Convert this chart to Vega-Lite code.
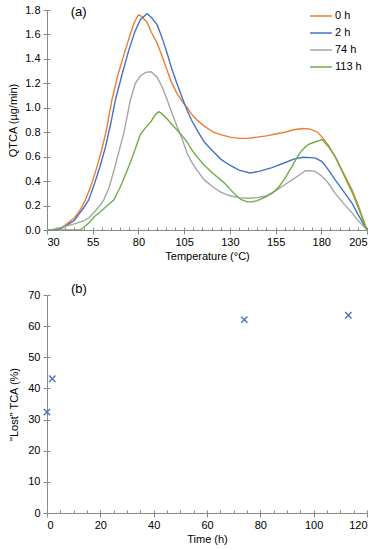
{
  "$schema": "https://vega.github.io/schema/vega-lite/v6.json",
  "padding": {"top": 4, "left": 7, "right": 5, "bottom": 5},
  "background": "white",
  "spacing": 22,
  "columns": 1,
  "align": "none",
  "config": {
    "font": "Liberation Sans",
    "view": {"stroke": null},
    "axis": {"grid": false, "domainColor": "#898989", "tickColor": "#898989", "labelColor": "#000", "titleColor": "#000", "labelFontSize": 11, "titleFontSize": 11, "titleFontWeight": "normal", "labelFont": "Liberation Sans", "titleFont": "Liberation Sans"}
  },
  "datasets": {
    "tga": [
      {"t": 30, "q": 0, "s": "0 h"}, {"t": 35, "q": 0.005, "s": "0 h"}, {"t": 38, "q": 0.02, "s": "0 h"}, {"t": 40, "q": 0.04, "s": "0 h"}, {"t": 45, "q": 0.1, "s": "0 h"}, {"t": 48, "q": 0.16, "s": "0 h"}, {"t": 51, "q": 0.245, "s": "0 h"}, {"t": 54, "q": 0.36, "s": "0 h"}, {"t": 57, "q": 0.5, "s": "0 h"}, {"t": 60, "q": 0.66, "s": "0 h"}, {"t": 62.5, "q": 0.82, "s": "0 h"}, {"t": 65.5, "q": 1.064, "s": "0 h"}, {"t": 69, "q": 1.28, "s": "0 h"}, {"t": 72.8, "q": 1.47, "s": "0 h"}, {"t": 75.5, "q": 1.6, "s": "0 h"}, {"t": 77.8, "q": 1.7, "s": "0 h"}, {"t": 80, "q": 1.76, "s": "0 h"}, {"t": 81.5, "q": 1.75, "s": "0 h"}, {"t": 84.7, "q": 1.7, "s": "0 h"}, {"t": 87, "q": 1.62, "s": "0 h"}, {"t": 90.2, "q": 1.53, "s": "0 h"}, {"t": 93, "q": 1.42, "s": "0 h"}, {"t": 95.6, "q": 1.31, "s": "0 h"}, {"t": 98, "q": 1.21, "s": "0 h"}, {"t": 101, "q": 1.12, "s": "0 h"}, {"t": 104, "q": 1.05, "s": "0 h"}, {"t": 106.6, "q": 1.0, "s": "0 h"}, {"t": 109, "q": 0.95, "s": "0 h"}, {"t": 112, "q": 0.9, "s": "0 h"}, {"t": 116, "q": 0.85, "s": "0 h"}, {"t": 121, "q": 0.8, "s": "0 h"}, {"t": 125, "q": 0.78, "s": "0 h"}, {"t": 130, "q": 0.76, "s": "0 h"}, {"t": 135, "q": 0.75, "s": "0 h"}, {"t": 140, "q": 0.75, "s": "0 h"}, {"t": 145, "q": 0.76, "s": "0 h"}, {"t": 150, "q": 0.77, "s": "0 h"}, {"t": 155, "q": 0.785, "s": "0 h"}, {"t": 160, "q": 0.8, "s": "0 h"}, {"t": 165, "q": 0.82, "s": "0 h"}, {"t": 170, "q": 0.83, "s": "0 h"}, {"t": 174, "q": 0.825, "s": "0 h"}, {"t": 178, "q": 0.8, "s": "0 h"}, {"t": 180.4, "q": 0.76, "s": "0 h"}, {"t": 184, "q": 0.69, "s": "0 h"}, {"t": 187.6, "q": 0.6, "s": "0 h"}, {"t": 192, "q": 0.47, "s": "0 h"}, {"t": 196.8, "q": 0.33, "s": "0 h"}, {"t": 200, "q": 0.21, "s": "0 h"}, {"t": 205, "q": 0, "s": "0 h"},

      {"t": 30, "q": 0, "s": "2 h"}, {"t": 35, "q": 0.005, "s": "2 h"}, {"t": 38, "q": 0.015, "s": "2 h"}, {"t": 40, "q": 0.03, "s": "2 h"}, {"t": 45, "q": 0.08, "s": "2 h"}, {"t": 48, "q": 0.14, "s": "2 h"}, {"t": 50, "q": 0.18, "s": "2 h"}, {"t": 52.8, "q": 0.245, "s": "2 h"}, {"t": 56, "q": 0.38, "s": "2 h"}, {"t": 59, "q": 0.52, "s": "2 h"}, {"t": 62, "q": 0.68, "s": "2 h"}, {"t": 65, "q": 0.88, "s": "2 h"}, {"t": 67.4, "q": 1.064, "s": "2 h"}, {"t": 71, "q": 1.27, "s": "2 h"}, {"t": 74.7, "q": 1.47, "s": "2 h"}, {"t": 78, "q": 1.62, "s": "2 h"}, {"t": 81, "q": 1.72, "s": "2 h"}, {"t": 84.7, "q": 1.77, "s": "2 h"}, {"t": 87, "q": 1.74, "s": "2 h"}, {"t": 90.2, "q": 1.68, "s": "2 h"}, {"t": 93, "q": 1.57, "s": "2 h"}, {"t": 95.6, "q": 1.45, "s": "2 h"}, {"t": 98, "q": 1.33, "s": "2 h"}, {"t": 101, "q": 1.2, "s": "2 h"}, {"t": 104, "q": 1.08, "s": "2 h"}, {"t": 106.6, "q": 0.98, "s": "2 h"}, {"t": 109, "q": 0.9, "s": "2 h"}, {"t": 112, "q": 0.82, "s": "2 h"}, {"t": 116, "q": 0.72, "s": "2 h"}, {"t": 121, "q": 0.64, "s": "2 h"}, {"t": 125, "q": 0.58, "s": "2 h"}, {"t": 130, "q": 0.53, "s": "2 h"}, {"t": 135, "q": 0.49, "s": "2 h"}, {"t": 141, "q": 0.466, "s": "2 h"}, {"t": 146, "q": 0.48, "s": "2 h"}, {"t": 153, "q": 0.51, "s": "2 h"}, {"t": 160, "q": 0.55, "s": "2 h"}, {"t": 165, "q": 0.58, "s": "2 h"}, {"t": 170, "q": 0.595, "s": "2 h"}, {"t": 176.6, "q": 0.59, "s": "2 h"}, {"t": 180.4, "q": 0.56, "s": "2 h"}, {"t": 184, "q": 0.49, "s": "2 h"}, {"t": 187.6, "q": 0.41, "s": "2 h"}, {"t": 192, "q": 0.32, "s": "2 h"}, {"t": 196.8, "q": 0.22, "s": "2 h"}, {"t": 200, "q": 0.13, "s": "2 h"}, {"t": 205, "q": 0, "s": "2 h"},

      {"t": 30, "q": 0, "s": "74 h"}, {"t": 33, "q": 0.005, "s": "74 h"}, {"t": 36, "q": 0.015, "s": "74 h"}, {"t": 40, "q": 0.03, "s": "74 h"}, {"t": 45, "q": 0.05, "s": "74 h"}, {"t": 50, "q": 0.075, "s": "74 h"}, {"t": 53, "q": 0.1, "s": "74 h"}, {"t": 56, "q": 0.15, "s": "74 h"}, {"t": 59, "q": 0.2, "s": "74 h"}, {"t": 61, "q": 0.245, "s": "74 h"}, {"t": 64, "q": 0.35, "s": "74 h"}, {"t": 67.2, "q": 0.52, "s": "74 h"}, {"t": 70, "q": 0.68, "s": "74 h"}, {"t": 72, "q": 0.79, "s": "74 h"}, {"t": 75.6, "q": 1.064, "s": "74 h"}, {"t": 78.3, "q": 1.2, "s": "74 h"}, {"t": 81, "q": 1.26, "s": "74 h"}, {"t": 84, "q": 1.29, "s": "74 h"}, {"t": 86.9, "q": 1.295, "s": "74 h"}, {"t": 88, "q": 1.28, "s": "74 h"}, {"t": 90.2, "q": 1.25, "s": "74 h"}, {"t": 93, "q": 1.17, "s": "74 h"}, {"t": 95.6, "q": 1.07, "s": "74 h"}, {"t": 98, "q": 0.97, "s": "74 h"}, {"t": 101, "q": 0.85, "s": "74 h"}, {"t": 104, "q": 0.74, "s": "74 h"}, {"t": 106.6, "q": 0.63, "s": "74 h"}, {"t": 109, "q": 0.56, "s": "74 h"}, {"t": 112, "q": 0.49, "s": "74 h"}, {"t": 116, "q": 0.41, "s": "74 h"}, {"t": 121, "q": 0.35, "s": "74 h"}, {"t": 125, "q": 0.31, "s": "74 h"}, {"t": 130, "q": 0.28, "s": "74 h"}, {"t": 135, "q": 0.265, "s": "74 h"}, {"t": 140, "q": 0.26, "s": "74 h"}, {"t": 145, "q": 0.265, "s": "74 h"}, {"t": 150, "q": 0.28, "s": "74 h"}, {"t": 155, "q": 0.32, "s": "74 h"}, {"t": 160, "q": 0.37, "s": "74 h"}, {"t": 165, "q": 0.42, "s": "74 h"}, {"t": 168, "q": 0.45, "s": "74 h"}, {"t": 171.3, "q": 0.486, "s": "74 h"}, {"t": 174, "q": 0.485, "s": "74 h"}, {"t": 176.6, "q": 0.48, "s": "74 h"}, {"t": 180.4, "q": 0.44, "s": "74 h"}, {"t": 184, "q": 0.38, "s": "74 h"}, {"t": 187.6, "q": 0.3, "s": "74 h"}, {"t": 192, "q": 0.22, "s": "74 h"}, {"t": 196.8, "q": 0.14, "s": "74 h"}, {"t": 200, "q": 0.08, "s": "74 h"}, {"t": 205, "q": 0, "s": "74 h"},

      {"t": 30, "q": 0, "s": "113 h"}, {"t": 48, "q": 0, "s": "113 h"}, {"t": 50, "q": 0.02, "s": "113 h"}, {"t": 53, "q": 0.06, "s": "113 h"}, {"t": 56, "q": 0.11, "s": "113 h"}, {"t": 60, "q": 0.16, "s": "113 h"}, {"t": 63, "q": 0.2, "s": "113 h"}, {"t": 66.5, "q": 0.245, "s": "113 h"}, {"t": 70, "q": 0.35, "s": "113 h"}, {"t": 72, "q": 0.42, "s": "113 h"}, {"t": 74.7, "q": 0.52, "s": "113 h"}, {"t": 78, "q": 0.65, "s": "113 h"}, {"t": 81, "q": 0.78, "s": "113 h"}, {"t": 84, "q": 0.84, "s": "113 h"}, {"t": 87, "q": 0.89, "s": "113 h"}, {"t": 89, "q": 0.94, "s": "113 h"}, {"t": 91.1, "q": 0.968, "s": "113 h"}, {"t": 93, "q": 0.95, "s": "113 h"}, {"t": 95.6, "q": 0.91, "s": "113 h"}, {"t": 98, "q": 0.87, "s": "113 h"}, {"t": 101, "q": 0.82, "s": "113 h"}, {"t": 104, "q": 0.77, "s": "113 h"}, {"t": 106.6, "q": 0.72, "s": "113 h"}, {"t": 109, "q": 0.66, "s": "113 h"}, {"t": 112, "q": 0.6, "s": "113 h"}, {"t": 116, "q": 0.53, "s": "113 h"}, {"t": 121, "q": 0.46, "s": "113 h"}, {"t": 125, "q": 0.41, "s": "113 h"}, {"t": 128, "q": 0.37, "s": "113 h"}, {"t": 131, "q": 0.32, "s": "113 h"}, {"t": 133.6, "q": 0.28, "s": "113 h"}, {"t": 136, "q": 0.25, "s": "113 h"}, {"t": 139.4, "q": 0.23, "s": "113 h"}, {"t": 142, "q": 0.23, "s": "113 h"}, {"t": 145, "q": 0.24, "s": "113 h"}, {"t": 149.4, "q": 0.27, "s": "113 h"}, {"t": 153, "q": 0.3, "s": "113 h"}, {"t": 156.7, "q": 0.35, "s": "113 h"}, {"t": 160, "q": 0.42, "s": "113 h"}, {"t": 164, "q": 0.52, "s": "113 h"}, {"t": 167, "q": 0.6, "s": "113 h"}, {"t": 169.5, "q": 0.655, "s": "113 h"}, {"t": 173, "q": 0.7, "s": "113 h"}, {"t": 176.6, "q": 0.72, "s": "113 h"}, {"t": 180.4, "q": 0.74, "s": "113 h"}, {"t": 184, "q": 0.68, "s": "113 h"}, {"t": 187.6, "q": 0.6, "s": "113 h"}, {"t": 192, "q": 0.46, "s": "113 h"}, {"t": 196.8, "q": 0.31, "s": "113 h"}, {"t": 200, "q": 0.19, "s": "113 h"}, {"t": 205, "q": 0, "s": "113 h"}
    ],
    "lost": [
      {"time": 0, "lost": 32.4},
      {"time": 2, "lost": 43.1},
      {"time": 74, "lost": 62.1},
      {"time": 113, "lost": 63.5}
    ],
    "labA": [{"x": 43, "y": 1.78, "label": "(a)"}],
    "labB": [{"x": 9, "y": 71.9, "label": "(b)"}]
  },
  "concat": [
    {
      "width": 320,
      "height": 220,
      "resolve": {"axis": {"x": "independent", "y": "independent"}},
      "layer": [
        {
          "data": {"name": "tga"},
          "mark": {"type": "line", "strokeWidth": 1.4, "clip": true},
          "encoding": {
            "x": {"field": "t", "type": "quantitative", "scale": {"domain": [30, 205], "nice": false},
              "axis": {"orient": "bottom", "values": [30, 55, 80, 105, 130, 155, 180, 205], "title": "Temperature (°C)", "tickSize": 4, "labelPadding": 2, "titlePadding": 3}},
            "y": {"field": "q", "type": "quantitative", "scale": {"domain": [0, 1.8], "nice": false},
              "axis": {"orient": "left", "values": [0, 0.2, 0.4, 0.6, 0.8, 1.0, 1.2, 1.4, 1.6, 1.8], "format": ".1f", "title": "QTCA (µg/min)", "tickSize": 4, "labelPadding": 3, "titlePadding": 6}},
            "color": {"field": "s", "type": "nominal",
              "scale": {"domain": ["0 h", "2 h", "74 h", "113 h"], "range": ["#ED7D31", "#4472C4", "#A5A5A5", "#70AD47"]},
              "legend": {"title": null, "orient": "none", "legendX": 262, "legendY": -6, "symbolType": "stroke", "symbolSize": 480, "symbolStrokeWidth": 1.5, "labelFontSize": 11, "labelColor": "#000", "labelFont": "Liberation Sans", "rowPadding": -7.5, "labelOffset": 2}},
            "detail": {"field": "s"}
          }
        },
        {
          "data": {"name": "tga"},
          "mark": {"type": "tick", "opacity": 0},
          "encoding": {
            "x": {"field": "t", "type": "quantitative",
              "axis": {"orient": "bottom", "values": [35, 40, 45, 50, 60, 65, 70, 75, 85, 90, 95, 100, 110, 115, 120, 125, 135, 140, 145, 150, 160, 165, 170, 175, 185, 190, 195, 200, 30, 55, 80, 105, 130, 155, 180, 205], "labels": false, "title": null, "tickSize": -3, "domain": false}},
            "y": {"field": "q", "type": "quantitative",
              "axis": {"orient": "left", "values": [0, 0.2, 0.4, 0.6, 0.8, 1.0, 1.2, 1.4, 1.6, 1.8], "labels": false, "title": null, "tickSize": -3, "domain": false}}
          }
        },
        {
          "data": {"name": "labA"},
          "mark": {"type": "text", "align": "left", "baseline": "middle", "fontSize": 13, "font": "Liberation Sans", "color": "#000"},
          "encoding": {
            "x": {"field": "x", "type": "quantitative", "axis": null},
            "y": {"field": "y", "type": "quantitative", "axis": null},
            "text": {"field": "label"}
          }
        }
      ]
    },
    {
      "width": 320,
      "height": 218,
      "resolve": {"axis": {"x": "independent", "y": "independent"}},
      "layer": [
        {
          "data": {"name": "lost"},
          "mark": {"type": "point", "shape": "M-1,-1L1,1M-1,1L1,-1", "filled": false, "size": 40, "strokeWidth": 1.4, "color": "#4472C4", "opacity": 1},
          "encoding": {
            "x": {"field": "time", "type": "quantitative", "scale": {"domain": [0, 120], "nice": false},
              "axis": {"orient": "bottom", "values": [0, 20, 40, 60, 80, 100, 120], "title": "Time (h)", "tickSize": 4, "labelPadding": 2, "titlePadding": 3}},
            "y": {"field": "lost", "type": "quantitative", "scale": {"domain": [0, 70], "nice": false},
              "axis": {"orient": "left", "values": [0, 10, 20, 30, 40, 50, 60, 70], "title": "\"Lost\" TCA (%)", "tickSize": 4, "labelPadding": 3, "titlePadding": 8}}
          }
        },
        {
          "data": {"name": "lost"},
          "mark": {"type": "tick", "opacity": 0},
          "encoding": {
            "x": {"field": "time", "type": "quantitative",
              "axis": {"orient": "bottom", "values": [0, 5, 10, 15, 20, 25, 30, 35, 40, 45, 50, 55, 60, 65, 70, 75, 80, 85, 90, 95, 100, 105, 110, 115, 120], "labels": false, "title": null, "tickSize": -3, "domain": false}},
            "y": {"field": "lost", "type": "quantitative",
              "axis": {"orient": "left", "values": [0, 10, 20, 30, 40, 50, 60, 70], "labels": false, "title": null, "tickSize": -3, "domain": false}}
          }
        },
        {
          "data": {"name": "labB"},
          "mark": {"type": "text", "align": "left", "baseline": "middle", "fontSize": 13, "font": "Liberation Sans", "color": "#000"},
          "encoding": {
            "x": {"field": "x", "type": "quantitative", "axis": null},
            "y": {"field": "y", "type": "quantitative", "axis": null},
            "text": {"field": "label"}
          }
        }
      ]
    }
  ]
}
